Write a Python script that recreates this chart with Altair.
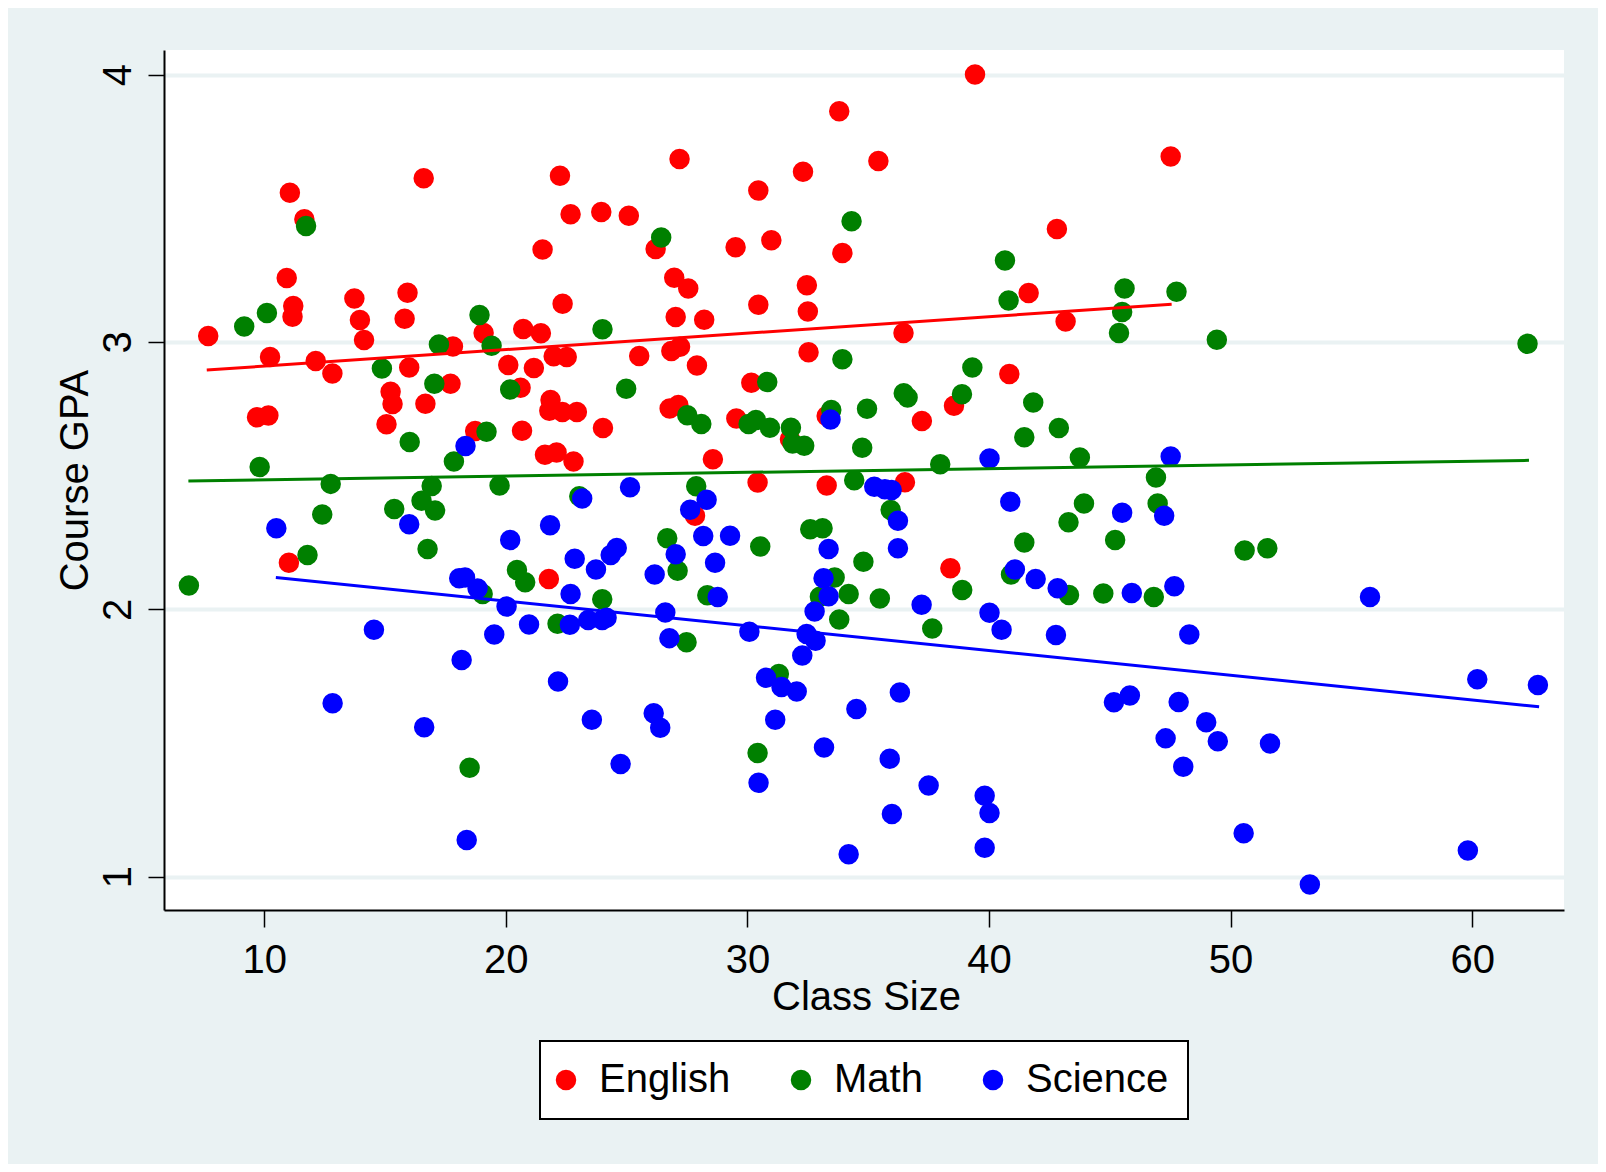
import altair as alt
import pandas as pd

subjects = ["English", "Math", "Science"]
colors = ["#FF0000", "#008000", "#0000FF"]

english_x = [7.68, 11.06, 11.66, 10.93, 11.20, 11.17, 16.60, 22.24, 22.68, 23.95, 25.09, 21.52, 22.35,
             13.73, 13.96, 14.13, 15.93, 15.81, 10.24, 12.13, 12.82, 17.81, 19.08, 20.72, 21.45, 20.10,
             21.16, 21.98, 22.52, 25.52, 16.00, 15.23, 15.31, 16.67, 17.71, 20.61, 9.70, 10.17, 15.06,
             18.73, 20.67, 21.85, 21.80, 22.34, 22.94, 24.02, 21.62, 22.10, 22.80,
             39.42, 33.80, 27.19, 32.30, 35.42, 30.45, 26.20, 29.51, 30.99, 33.93, 42.81, 26.97, 27.55,
             32.46, 32.50, 27.03, 28.21, 30.45, 41.64, 43.17, 36.46, 26.85, 27.21, 27.91, 32.53, 30.16,
             40.84, 26.78, 27.14, 29.54, 37.22, 38.55, 33.28, 31.76, 28.57, 30.42, 33.28, 36.52,
             11.02, 21.78, 27.83, 38.40, 47.52]
english_y = [3.022, 3.558, 3.459, 3.239, 3.134, 3.094, 3.612, 3.622, 3.478, 3.486, 3.472, 3.346, 3.143,
             3.162, 3.082, 3.007, 3.184, 3.087, 2.944, 2.929, 2.882, 2.983, 3.033, 3.048, 3.032, 2.914,
             2.902, 2.946, 2.944, 2.947, 2.904, 2.814, 2.768, 2.769, 2.844, 2.829, 2.718, 2.725, 2.692,
             2.667, 2.668, 2.783, 2.743, 2.738, 2.738, 2.678, 2.578, 2.586, 2.553,
             4.000, 3.863, 3.684, 3.637, 3.677, 3.566, 3.348, 3.354, 3.380, 3.333, 3.422, 3.240, 3.200,
             3.212, 3.114, 3.093, 3.083, 3.139, 3.183, 3.076, 3.033, 2.966, 2.982, 2.912, 2.961, 2.847,
             2.880, 2.751, 2.764, 2.714, 2.704, 2.761, 2.723, 2.636, 2.561, 2.474, 2.463, 2.475,
             2.174, 2.113, 2.350, 2.153, 3.694]

math_x = [9.17, 10.11, 11.73, 18.91, 17.23, 19.41, 24.00, 14.87, 17.04, 20.18, 24.98, 16.02, 19.20,
          17.85, 9.81, 12.75, 16.93, 19.74, 23.04,
          12.40, 11.79, 6.88, 15.38, 16.51, 17.07, 16.76, 20.46, 20.80, 19.04, 23.99, 22.14, 18.50,
          26.43, 34.31, 40.66, 40.81, 33.93, 39.31, 30.82, 36.47, 36.63, 38.88, 27.51, 28.09, 30.05,
          30.35, 30.93, 31.80, 31.87, 32.35, 33.47, 34.95, 41.83, 41.46, 42.89, 34.75, 43.76, 37.98,
          34.42, 27.88,
          26.68, 27.11, 28.34, 27.48, 30.53, 32.60, 33.11, 35.93, 34.80, 33.61, 33.00, 34.19, 33.80,
          35.48, 38.89, 37.65, 41.46, 43.29, 43.93, 40.91, 43.31, 44.73, 31.30, 30.42,
          45.61, 47.76, 45.51, 45.38, 49.43, 62.29, 46.91,
          46.98, 45.22, 50.58, 51.52, 46.82]
math_y = [3.058, 3.108, 3.434, 3.101, 2.990, 2.986, 3.047, 2.901, 2.844, 2.822, 2.825, 2.626, 2.664,
          2.553, 2.532, 2.469, 2.461, 2.463, 2.423,
          2.354, 2.203, 2.089, 2.375, 2.406, 2.369, 2.225, 2.147, 2.101, 2.057, 2.037, 1.946, 1.407,
          3.391, 3.451, 3.305, 3.155, 2.935, 2.904, 2.850, 2.808, 2.792, 2.804, 2.726, 2.693, 2.693,
          2.708, 2.679, 2.679, 2.620, 2.612, 2.745, 2.750, 2.773, 2.643, 2.678, 2.604, 2.568, 2.542,
          2.483, 2.460,
          2.266, 2.144, 2.052, 1.877, 2.235, 2.299, 2.303, 2.371, 2.178, 2.119, 2.047, 2.057, 1.962,
          2.040, 2.072, 1.928, 2.250, 2.325, 2.396, 2.130, 2.053, 2.059, 1.758, 1.462,
          3.200, 3.188, 3.112, 3.033, 3.008, 2.993, 2.493,
          2.396, 2.259, 2.220, 2.228, 2.046]

science_x = [18.33, 25.14,
             10.50, 16.00, 20.18, 21.83, 23.16, 22.85, 23.73, 24.34, 24.59, 18.07, 18.31, 18.83, 20.03,
             22.68, 20.96, 22.65, 23.41, 23.99, 24.17, 14.54, 19.52, 18.17, 22.16, 23.56, 24.75, 12.83,
             16.62, 18.38,
             33.44, 40.02, 35.25, 35.69, 35.97,
             28.31, 27.63, 28.17, 29.28, 27.03, 28.66, 26.16, 28.77, 26.60, 26.77, 30.08, 33.36, 33.15,
             33.36, 32.78, 32.45, 32.82, 32.27, 36.23, 36.23, 40.88, 41.07, 41.93, 42.84, 37.21, 40.02,
             40.52, 42.77, 30.77, 31.41, 32.04, 36.31, 34.51, 26.12, 26.39, 31.15, 33.17, 35.89, 30.46,
             37.50, 39.82, 40.02, 35.98, 39.82, 34.19,
             47.52,
             45.51, 47.25, 45.91, 47.67, 55.77, 48.29, 60.21, 62.72, 45.17, 45.83, 47.85, 48.99, 47.31,
             49.47, 51.63, 48.04, 50.54, 59.82, 53.28]
science_y = [2.611, 2.456,
             2.303, 2.318, 2.259, 2.314, 2.414, 2.189, 2.149, 2.203, 2.229, 2.116, 2.119, 2.078, 2.010,
             2.057, 1.943, 1.942, 1.960, 1.960, 1.968, 1.923, 1.906, 1.810, 1.730, 1.587, 1.421, 1.648,
             1.559, 1.137,
             2.710, 2.564, 2.458, 2.449, 2.446,
             2.410, 2.372, 2.274, 2.275, 2.206, 2.174, 2.130, 2.046, 1.988, 1.892, 1.916, 2.225, 2.116,
             2.049, 1.992, 1.907, 1.882, 1.827, 2.331, 2.228, 2.402, 2.149, 2.113, 2.079, 2.017, 1.987,
             1.923, 1.904, 1.744, 1.709, 1.692, 1.689, 1.627, 1.611, 1.557, 1.587, 1.483, 1.441, 1.351,
             1.341, 1.302, 1.238, 1.234, 1.108, 1.084,
             2.571,
             2.361, 2.350, 2.061, 2.086, 2.046, 1.906, 1.738, 1.717, 1.652, 1.677, 1.653, 1.577, 1.517,
             1.506, 1.498, 1.411, 1.162, 1.098, 0.970]

# Linear fit lines (endpoints)
fit_x_start = [7.62, 6.86, 10.48]
fit_y_start = [2.895, 2.480, 2.119]
fit_x_end = [47.56, 62.35, 62.77]
fit_y_end = [3.141, 2.557, 1.635]

FONT = "Liberation Sans"
BG = "#EAF2F3"

rows = []
k = 0
for s, xs, ys in zip(subjects, [english_x, math_x, science_x], [english_y, math_y, science_y]):
    for a, b in zip(xs, ys):
        rows.append({"subject": s, "size": a, "gpa": b, "ord": k})
        k += 1
pts = pd.DataFrame(rows)

color_map = dict(zip(subjects, colors))
lrows = []
for i, s in enumerate(subjects):
    lrows.append({"subject": s, "size": fit_x_start[i], "gpa": fit_y_start[i], "c": color_map[s]})
    lrows.append({"subject": s, "size": fit_x_end[i], "gpa": fit_y_end[i], "c": color_map[s]})
lines = pd.DataFrame(lrows)

xscale = alt.Scale(domain=[5.85, 63.8], nice=False, zero=False)
yscale = alt.Scale(domain=[0.875, 4.092], nice=False, zero=False)

xaxis = alt.Axis(values=[10, 20, 30, 40, 50, 60], title="Class Size", grid=False, format="d",
                 domainColor="black", domainWidth=2, tickColor="black", tickWidth=1.5, tickSize=17,
                 labelFont=FONT, labelFontSize=40, labelColor="black", labelPadding=13, labelFlush=False,
                 titleFont=FONT, titleFontSize=40, titleFontWeight="normal", titleColor="black",
                 titleBaseline="alphabetic", titleY=99, titleX=702)
yaxis = alt.Axis(values=[1, 2, 3, 4], title="Course GPA", grid=True, gridColor=BG, gridWidth=4, format="d",
                 domainColor="black", domainWidth=2, tickColor="black", tickWidth=1.5, tickSize=16,
                 labelFont=FONT, labelFontSize=40, labelColor="black", labelAngle=270, labelAlign="center",
                 labelBaseline="alphabetic", labelPadding=18,
                 titleFont=FONT, titleFontSize=40, titleFontWeight="normal", titleColor="black",
                 titleAngle=270, titleAlign="center", titleBaseline="alphabetic", titleX=-77, titleY=430)

points = alt.Chart(pts).mark_circle(size=420, opacity=1, strokeWidth=0).encode(
    x=alt.X("size:Q", scale=xscale, axis=xaxis),
    y=alt.Y("gpa:Q", scale=yscale, axis=yaxis),
    color=alt.Color("subject:N", scale=alt.Scale(domain=subjects, range=colors),
                    legend=alt.Legend(title=None, orient="none", legendX=376, legendY=991,
                                      direction="horizontal", padding=19, strokeColor="black",
                                      fillColor="white", symbolType="circle", symbolSize=420,
                                      symbolStrokeWidth=0, symbolOpacity=1, symbolOffset=-13,
                                      labelFont=FONT, labelFontSize=40, labelColor="black",
                                      labelOffset=13, columnPadding=59)),
    order=alt.Order("ord:Q"),
)

fits = alt.Chart(lines).mark_line(strokeWidth=3, clip=True).encode(
    x=alt.X("size:Q", scale=xscale),
    y=alt.Y("gpa:Q", scale=yscale),
    detail="subject:N",
    color=alt.Color("c:N", scale=None),
)

chart = alt.layer(points, fits).properties(
    width=1400, height=860,
    background=BG,
    padding={"left": 156, "top": 42, "right": 34, "bottom": 254},
    autosize=alt.AutoSizeParams(type="none"),
).configure_view(stroke=None, fill="white").configure_legend(strokeWidth=2)

chart.save("out.html", embed_options={"renderer": "svg", "actions": False})
